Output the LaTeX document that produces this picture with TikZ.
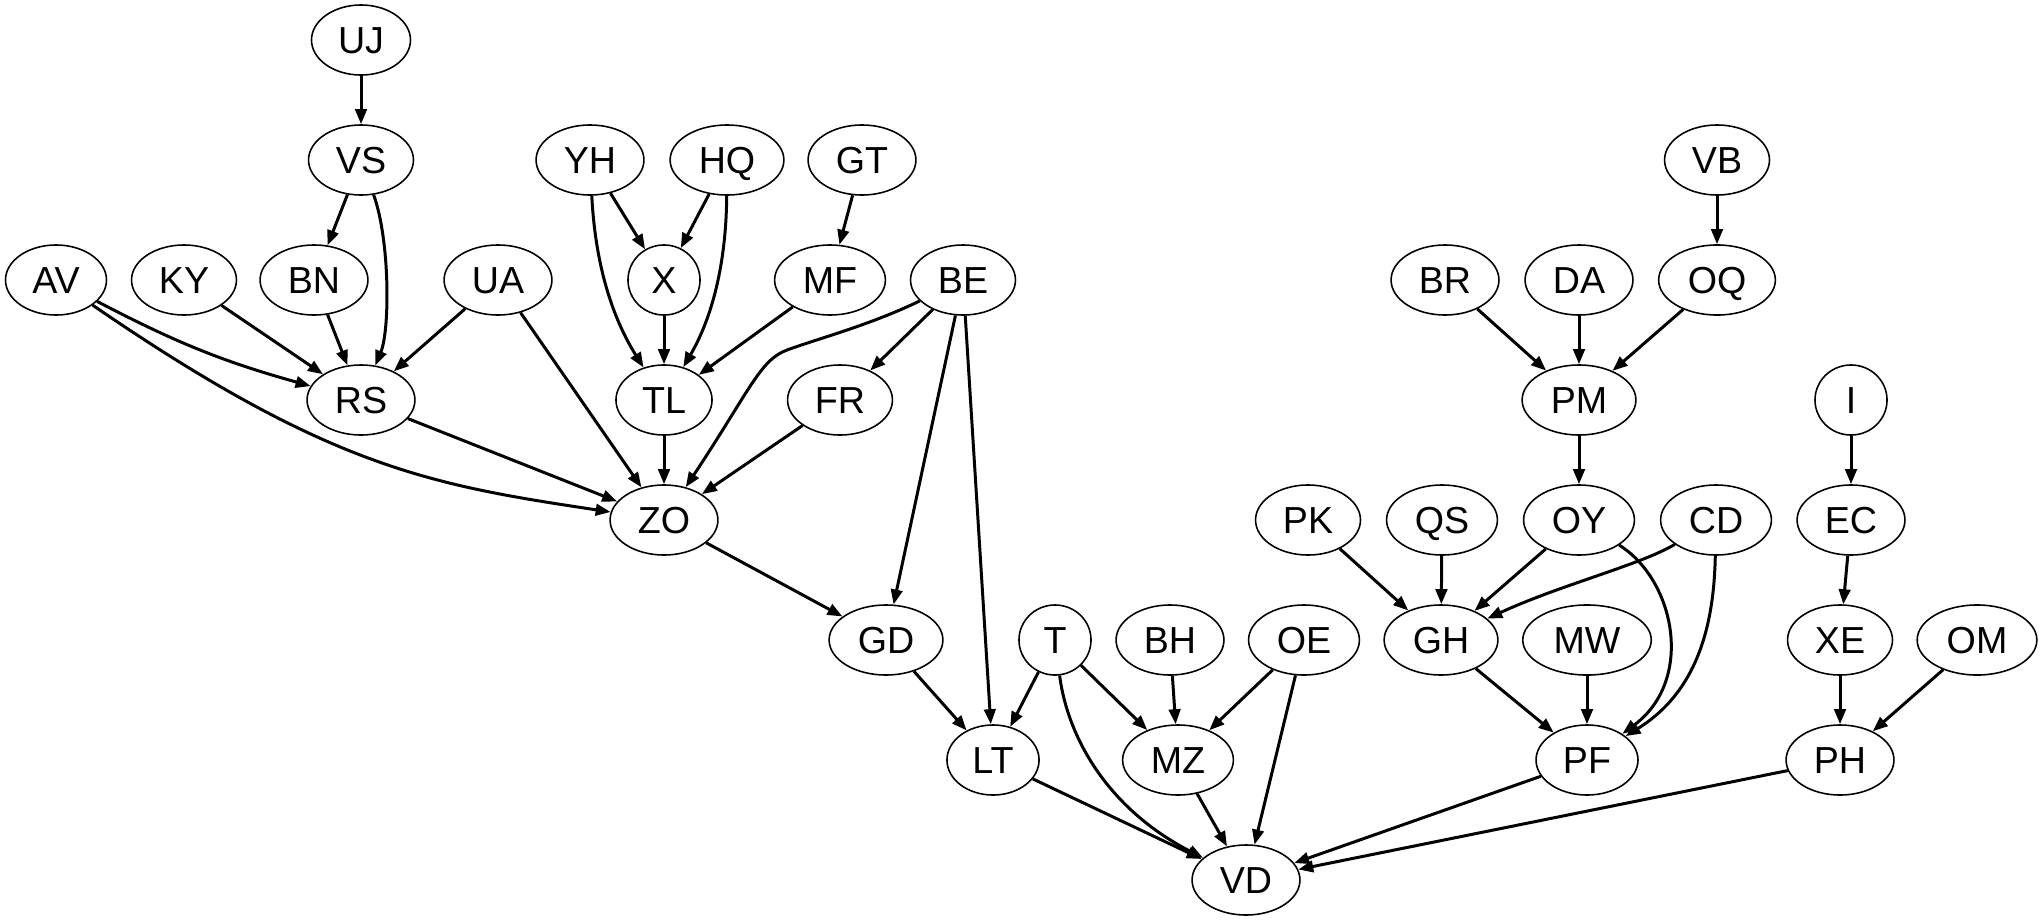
\documentclass[tikz,border=0pt]{standalone}
\usepackage{fontspec}
\setmainfont{Liberation Sans}
\usetikzlibrary{shapes.geometric,arrows.meta}

\begin{document}
\begin{tikzpicture}[%
      x=0.01cm, y=0.01cm,
      vert/.style={draw, ellipse, line width=0.45pt, inner xsep=0.12cm, inner ysep=0pt,
        minimum width=0.72cm, minimum height=0.7cm, text height=0.27cm, text depth=0pt,
        font=\fontsize{10.7}{12}\selectfont},
      link/.style={color=black, line width=0.85pt, -{Triangle[length=0.15cm, width=0.115cm]}},
      ]
      \useasboundingbox (0,0) rectangle (2043,920);

      \node [vert] (UJ) at (361,880) {UJ};
      \node [vert] (VS) at (361,760) {VS};
      \node [vert] (YH) at (590,760) {YH};
      \node [vert] (HQ) at (727,760) {HQ};
      \node [vert] (GT) at (862,760) {GT};
      \node [vert] (VB) at (1717,760) {VB};

      \node [vert] (AV) at (56,640) {AV};
      \node [vert] (KY) at (184,640) {KY};
      \node [vert] (BN) at (314,640) {BN};
      \node [vert] (UA) at (498,640) {UA};
      \node [vert] (X) at (664,640) {X};
      \node [vert] (MF) at (830,640) {MF};
      \node [vert] (BE) at (963,640) {BE};
      \node [vert] (BR) at (1445,640) {BR};
      \node [vert] (DA) at (1579,640) {DA};
      \node [vert] (OQ) at (1717,640) {OQ};

      \node [vert] (RS) at (361,520) {RS};
      \node [vert] (TL) at (664,520) {TL};
      \node [vert] (FR) at (840,520) {FR};
      \node [vert] (PM) at (1579,520) {PM};
      \node [vert] (I) at (1851,520) {I};

      \node [vert] (ZO) at (664,400) {ZO};
      \node [vert] (PK) at (1308,400) {PK};
      \node [vert] (QS) at (1442,400) {QS};
      \node [vert] (OY) at (1579,400) {OY};
      \node [vert] (CD) at (1716,400) {CD};
      \node [vert] (EC) at (1851,400) {EC};

      \node [vert] (GD) at (886,280) {GD};
      \node [vert] (T) at (1055,280) {T};
      \node [vert] (BH) at (1170,280) {BH};
      \node [vert] (OE) at (1304,280) {OE};
      \node [vert] (GH) at (1441,280) {GH};
      \node [vert] (MW) at (1587,280) {MW};
      \node [vert] (XE) at (1840,280) {XE};
      \node [vert] (OM) at (1977,280) {OM};

      \node [vert] (LT) at (993,160) {LT};
      \node [vert] (MZ) at (1178,160) {MZ};
      \node [vert] (PF) at (1587,160) {PF};
      \node [vert] (PH) at (1840,160) {PH};

      \node [vert] (VD) at (1246,40) {VD};

      \draw [link] (UJ) -- (VS);
      \draw [link] (VS) -- (BN);
      \draw [link] (VS) .. controls (390,680) and (390,590) .. (RS);
      \draw [link] (YH) -- (X);
      \draw [link] (YH) .. controls (596,640) and (620,590) .. (TL);
      \draw [link] (HQ) -- (X);
      \draw [link] (HQ) .. controls (726,640) and (705,590) .. (TL);
      \draw [link] (GT) -- (MF);
      \draw [link] (VB) -- (OQ);

      \draw [link] (AV) to [bend right=6] (RS);
      \draw [link] (AV) .. controls (330,452) and (431,435) .. (ZO);
      \draw [link] (KY) -- (RS);
      \draw [link] (BN) -- (RS);
      \draw [link] (UA) -- (RS);
      \draw [link] (UA) -- (ZO);
      \draw [link] (X) -- (TL);
      \draw [link] (MF) -- (TL);
      \draw [link] (BE) .. controls (870,595) and (820,582) .. (787,570)
                        .. controls (760,560) and (750,530) .. (ZO);
      \draw [link] (BE) -- (FR);
      \draw [link] (BE) -- (GD);
      \draw [link] (BE) -- (LT);
      \draw [link] (BR) -- (PM);
      \draw [link] (DA) -- (PM);
      \draw [link] (OQ) -- (PM);

      \draw [link] (RS) -- (ZO);
      \draw [link] (TL) -- (ZO);
      \draw [link] (FR) -- (ZO);
      \draw [link] (PM) -- (OY);
      \draw [link] (I) -- (EC);

      \draw [link] (ZO) -- (GD);
      \draw [link] (PK) -- (GH);
      \draw [link] (QS) -- (GH);
      \draw [link] (OY) -- (GH);
      \draw [link] (OY) .. controls (1675,340) and (1695,240) .. (PF);
      \draw [link] (CD) .. controls (1640,355) and (1560,335) .. (GH);
      \draw [link] (CD) .. controls (1714,300) and (1700,230) .. (PF);
      \draw [link] (EC) -- (XE);

      \draw [link] (GD) -- (LT);
      \draw [link] (T) -- (LT);
      \draw [link] (T) -- (MZ);
      \draw [link] (T) .. controls (1068,180) and (1110,110) .. (VD);
      \draw [link] (BH) -- (MZ);
      \draw [link] (OE) -- (MZ);
      \draw [link] (OE) -- (VD);
      \draw [link] (GH) -- (PF);
      \draw [link] (MW) -- (PF);
      \draw [link] (XE) -- (PH);
      \draw [link] (OM) -- (PH);

      \draw [link] (LT) -- (VD);
      \draw [link] (MZ) -- (VD);
      \draw [link] (PF) -- (VD);
      \draw [link] (PH) -- (VD);
\end{tikzpicture}
\end{document}
